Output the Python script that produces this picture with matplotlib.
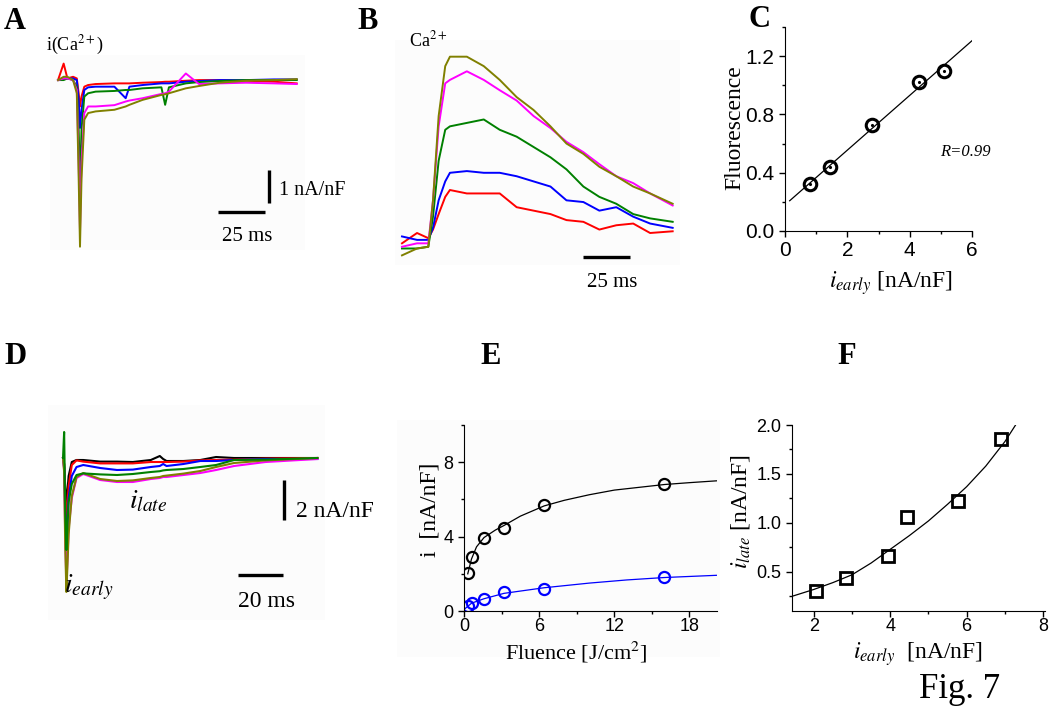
import numpy as np
import matplotlib
matplotlib.use('Agg')
import matplotlib.pyplot as plt
from matplotlib.patches import Rectangle
from matplotlib.ticker import MultipleLocator

# panel A: Ca current traces (ms, nA/nF)
a_time = [0, 3, 5, 8, 10, 11, 11.7, 12.5, 14, 16, 20, 30, 36, 38, 45, 55, 57, 59, 68, 75, 86, 100, 115, 127]
a_red = [0, 0.5, 0.05, 0.1, 0.05, -0.4, -0.8, -0.5, -0.2, -0.15, -0.12, -0.1, -0.1, -0.1, -0.08, -0.06,
         -0.05, -0.05, -0.02, 0, 0, -0.02, -0.05, -0.1]
a_blue = [0, 0.05, 0.05, 0.05, 0, -0.6, -1.45, -0.9, -0.3, -0.22, -0.2, -0.2, -0.55, -0.2, -0.15, -0.1,
          -0.1, -0.1, -0.05, -0.03, 0, 0, 0.02, 0.02]
a_green = [0, 0, 0.05, 0, -0.2, -1.5, -3.1, -1.5, -0.5, -0.4, -0.35, -0.33, -0.3, -0.3, -0.25, -0.22,
           -0.75, -0.22, -0.1, -0.06, -0.03, 0, 0, 0]
a_magenta = [0, 0.05, 0.05, 0, -0.3, -2.5, -4.6, -2.5, -1.0, -0.8, -0.8, -0.76, -0.65, -0.62, -0.55, -0.42,
             -0.4, -0.35, 0.2, -0.12, -0.1, -0.08, -0.1, -0.12]
a_olive = [0, 0.1, 0.1, 0, -0.4, -3.0, -5.05, -3.0, -1.2, -1.0, -0.95, -0.9, -0.8, -0.75, -0.6, -0.45,
           -0.43, -0.4, -0.25, -0.18, -0.08, -0.02, 0, 0.03]

# panel B: Ca fluorescence transients (ms, dF/F)
b_time = [0, 8, 14, 16.5, 19.5, 23, 25.5, 34.5, 43.5, 52, 61, 70, 79, 87.5, 96.5, 105, 114, 123, 132, 144]
b_olive = [-0.06, -0.02, -0.01, 0.26, 0.75, 1.04, 1.095, 1.095, 1.04, 0.96, 0.86, 0.785, 0.69, 0.59,
           0.53, 0.455, 0.40, 0.34, 0.30, 0.24]
b_magenta = [-0.01, 0.01, 0.01, 0.26, 0.69, 0.94, 0.96, 1.01, 0.96, 0.90, 0.84, 0.75, 0.68, 0.60,
             0.54, 0.47, 0.40, 0.36, 0.30, 0.23]
b_green = [-0.02, -0.02, -0.01, 0.165, 0.49, 0.67, 0.69, 0.71, 0.73, 0.67, 0.63, 0.57, 0.51, 0.44,
           0.34, 0.28, 0.24, 0.18, 0.155, 0.135]
b_blue = [0.05, 0.03, 0.03, 0.10, 0.26, 0.37, 0.42, 0.43, 0.42, 0.42, 0.40, 0.37, 0.34, 0.26,
          0.25, 0.20, 0.22, 0.165, 0.125, 0.10]
b_red = [0.01, 0.07, 0.04, 0.09, 0.18, 0.28, 0.32, 0.30, 0.30, 0.30, 0.22, 0.20, 0.18, 0.145,
         0.135, 0.09, 0.115, 0.125, 0.07, 0.08]

# panel C: fluorescence vs early current
c_early = [0.8, 1.45, 2.8, 4.3, 5.1]
c_fluo = [0.32, 0.44, 0.73, 1.02, 1.10]

# panel D: current traces at increasing fluence (ms, nA/nF)
d_time = [0, 0.5, 1.0, 1.5, 2.0, 2.5, 3.9, 6, 9, 16.5, 24, 31, 39, 43, 44.5, 46, 53.5, 61, 68, 76, 90, 113]
d_black = [0, -0.3, -1.5, -2.25, -1.6, -0.9, -0.2, -0.1, -0.1, -0.18, -0.18, -0.2, -0.1, 0.1, -0.05,
           -0.15, -0.15, -0.1, 0.05, 0, 0, 0]
d_red = [0, -0.3, -2.0, -3.1, -2.3, -1.4, -0.35, -0.12, -0.18, -0.27, -0.27, -0.27, -0.2, -0.2, -0.2,
         -0.2, -0.18, -0.12, -0.1, -0.08, -0.03, 0]
d_blue = [0, -0.5, -2.8, -4.3, -3.2, -2.0, -0.9, -0.45, -0.35, -0.5, -0.6, -0.58, -0.45, -0.4, -0.3,
          -0.4, -0.3, -0.15, -0.15, -0.1, -0.05, -0.05]
d_green = [0, 1.3, -2.7, -4.6, -3.3, -2.2, -1.3, -0.85, -0.77, -0.82, -0.85, -0.8, -0.7, -0.66, -0.62,
           -0.6, -0.55, -0.45, -0.35, -0.1, -0.08, 0]
d_magenta = [0, -0.6, -4.0, -6.3, -5.0, -3.5, -2.0, -1.0, -0.8, -1.1, -1.2, -1.2, -1.05, -1.0, -0.95,
             -0.95, -0.85, -0.75, -0.6, -0.4, -0.2, -0.05]
d_olive = [0, -0.7, -4.5, -6.7, -5.3, -3.8, -1.9, -0.95, -0.75, -1.05, -1.15, -1.12, -1.0, -0.95, -0.9,
           -0.88, -0.78, -0.65, -0.45, -0.25, -0.12, 0]

# panel E: current vs fluence
e_fluence = [0.3, 0.6, 1.6, 3.2, 6.4, 16]
e_early = [2.05, 2.9, 3.95, 4.45, 5.7, 6.85]
e_late = [0.25, 0.42, 0.63, 1.03, 1.2, 1.85]
e_fit_x = [0.3, 0.6, 1.0, 1.6, 2.5, 3.2, 4.5, 6.4, 8, 10, 12, 14, 16, 18, 20.2]
e_fit_early = [2.0, 2.8, 3.45, 3.95, 4.35, 4.6, 5.1, 5.65, 5.95, 6.25, 6.5, 6.65, 6.8, 6.9, 7.0]
e_fit_lx = [0, 0.6, 1.6, 3.2, 6.4, 10, 13, 16, 20.2]
e_fit_late = [0.08, 0.42, 0.66, 0.95, 1.25, 1.5, 1.67, 1.8, 1.92]

# panel F: late vs early current
f_early = [2.05, 2.85, 3.95, 4.45, 5.78, 6.9]
f_late = [0.30, 0.44, 0.66, 1.06, 1.22, 1.86]
f_fit_x = [1.43, 2, 2.5, 3, 3.5, 4, 4.5, 5, 5.5, 6, 6.5, 7, 7.28]
f_fit_y = [0.25, 0.32, 0.39, 0.47, 0.59, 0.73, 0.87, 1.02, 1.19, 1.37, 1.58, 1.83, 2.0]

RED, BLUE, GREEN, MAG, OLIVE = '#ff0000', '#0000ff', '#008000', '#ff00ff', '#808000'

plt.rcParams['font.family'] = ['Liberation Serif', 'DejaVu Serif']
plt.rcParams['mathtext.fontset'] = 'stix'
SANS = ['Liberation Sans', 'DejaVu Sans']

W, H = 1050, 710
fig = plt.figure(figsize=(W / 100, H / 100), dpi=100)


def px_axes(x0, y0, x1, y1):
    return fig.add_axes([x0 / W, 1 - y1 / H, (x1 - x0) / W, (y1 - y0) / H])


def px_text(x, y, s, **kw):
    kw.setdefault('va', 'baseline')
    fig.text(x / W, 1 - y / H, s, **kw)


def label_at(axis, x, y):
    axis.set_label_coords(x / W, 1 - y / H, transform=fig.transFigure)
    axis.label.set_va('center')
    axis.label.set_ha('center')


def trace_axes(ax, xlim, ylim):
    ax.set_xlim(*xlim)
    ax.set_ylim(*ylim)
    ax.set_xticks([])
    ax.set_yticks([])
    ax.set_facecolor('#fcfcfc')
    for s in ax.spines.values():
        s.set_visible(False)


def plot_axes(ax, size):
    ax.spines['top'].set_visible(False)
    ax.spines['right'].set_visible(False)
    ax.tick_params(which='both', direction='out', width=1)
    ax.tick_params(which='major', length=4, labelsize=size)
    ax.tick_params(which='minor', length=2.5)
    for lab in ax.get_xticklabels() + ax.get_yticklabels():
        lab.set_family(SANS)


# ---- A ----
ax = px_axes(50, 55, 305, 250)
trace_axes(ax, (-4.26, 131.4), (-5.15, 0.76))
for y, c in [(a_red, RED), (a_blue, BLUE), (a_green, GREEN), (a_magenta, MAG), (a_olive, OLIVE)]:
    ax.plot(a_time, y, color=c, lw=1.4)
ax.plot([112.2, 112.2], [-2.73, -3.73], color='k', lw=2.4, solid_capstyle='butt')
ax.plot([85.1, 110.1], [-4.0, -4.0], color='k', lw=2.4, solid_capstyle='butt')
px_text(4, 29, 'A', fontsize=22, fontweight='bold')
px_text(46, 50, 'i(Ca$^{2+}$)', fontsize=13)
px_text(279, 195, '1 nA/nF', fontsize=14.5)
px_text(247, 241, '25 ms', fontsize=15, ha='center')

# ---- B ----
ax = px_axes(395, 40, 680, 265)
trace_axes(ax, (-3.72, 147.9), (-0.116, 1.192))
for y, c in [(b_red, RED), (b_blue, BLUE), (b_green, GREEN), (b_magenta, MAG), (b_olive, OLIVE)]:
    ax.plot(b_time, y, color=c, lw=1.4)
ax.plot([96.3, 121.3], [-0.07, -0.07], color='k', lw=2.4, solid_capstyle='butt')
px_text(357, 29, 'B', fontsize=22, fontweight='bold')
px_text(409, 46, 'Ca$^{2+}$', fontsize=13)
px_text(612, 287, '25 ms', fontsize=15, ha='center')

# ---- C ----
ax = px_axes(785, 27, 972, 231)
ax.plot(c_early, c_fluo, 'o', ms=9, mfc='none', mec='k', mew=2.2)
ax.plot(c_early, c_fluo, '.', ms=2.5, color='k')
coef = np.polyfit(c_early, c_fluo, 1)
fx = np.array([0.15, 6.0])
ax.plot(fx, np.polyval(coef, fx), color='k', lw=0.9)
ax.set_xlim(0, 6)
ax.set_ylim(0, 1.4)
ax.xaxis.set_major_locator(MultipleLocator(2))
ax.xaxis.set_minor_locator(MultipleLocator(1))
ax.yaxis.set_major_locator(MultipleLocator(0.4))
ax.yaxis.set_minor_locator(MultipleLocator(0.2))
ax.yaxis.set_major_formatter(matplotlib.ticker.FormatStrFormatter('%.1f'))
plot_axes(ax, 15)
ax.set_ylabel('Fluorescence', fontsize=17)
ax.set_xlabel('$i_{early}$ [nA/nF]', fontsize=17)
label_at(ax.yaxis, 735, 128)
label_at(ax.xaxis, 891, 283)
ax.text(4.97, 0.54, 'R=0.99', fontsize=12, style='italic', va='center')
px_text(749, 27, 'C', fontsize=22, fontweight='bold')

# ---- D ----
ax = px_axes(48, 405, 325, 620)
trace_axes(ax, (-6.67, 116.4), (-8.1, 2.65))
for y, c in [(d_black, 'k'), (d_red, RED), (d_blue, BLUE), (d_magenta, MAG), (d_olive, OLIVE),
             (d_green, GREEN)]:
    ax.plot(d_time, y, color=c, lw=1.5)
ax.plot([98.2, 98.2], [-1.1, -3.1], color='k', lw=2.4, solid_capstyle='butt')
ax.plot([77.8, 97.8], [-5.85, -5.85], color='k', lw=2.4, solid_capstyle='butt')
px_text(4, 364, 'D', fontsize=22, fontweight='bold')
px_text(296, 517, '2 nA/nF', fontsize=17)
px_text(266, 607, '20 ms', fontsize=17, ha='center')
px_text(129, 508, '$i_{late}$', fontsize=20)
px_text(64, 592, '$i_{early}$', fontsize=20)

# ---- E ----
fig.add_artist(Rectangle((397 / W, 1 - 657 / H), 323 / W, 237 / H, transform=fig.transFigure,
                         facecolor='#fcfcfc', edgecolor='none', zorder=0))
ax = px_axes(464, 425, 717, 611)
ax.patch.set_alpha(0)
ax.plot(e_fit_x, e_fit_early, color='k', lw=0.9)
ax.plot(e_fit_lx, e_fit_late, color=BLUE, lw=0.9)
ax.plot(e_fluence, e_early, 'o', ms=8, mfc='none', mec='k', mew=1.6)
ax.plot(e_fluence, e_late, 'o', ms=8, mfc='none', mec=BLUE, mew=1.6)
ax.set_xlim(0, 20.2)
ax.set_ylim(0, 10)
ax.xaxis.set_major_locator(MultipleLocator(6))
ax.xaxis.set_minor_locator(MultipleLocator(3))
ax.yaxis.set_major_locator(MultipleLocator(4))
ax.yaxis.set_minor_locator(MultipleLocator(2))
plot_axes(ax, 13)
ax.tick_params(axis='x', pad=1)
ax.set_ylabel('i  [nA/nF]', fontsize=17)
ax.set_xlabel('Fluence [J/cm$^2$]', fontsize=16)
label_at(ax.yaxis, 430, 510)
label_at(ax.xaxis, 576, 652)
px_text(480, 364, 'E', fontsize=22, fontweight='bold')

# ---- F ----
ax = px_axes(792, 425, 1045, 611)
ax.plot(f_fit_x, f_fit_y, color='k', lw=0.9)
ax.plot(f_early, f_late, 's', ms=8, mfc='none', mec='k', mew=2)
ax.set_xlim(1.43, 8.05)
ax.set_ylim(0.1, 2.0)
ax.xaxis.set_major_locator(MultipleLocator(2))
ax.xaxis.set_minor_locator(MultipleLocator(1))
ax.yaxis.set_major_locator(MultipleLocator(0.5))
ax.yaxis.set_minor_locator(MultipleLocator(0.25))
ax.yaxis.set_major_formatter(matplotlib.ticker.FormatStrFormatter('%.1f'))
plot_axes(ax, 13)
ax.tick_params(axis='x', pad=1)
ax.set_ylabel('$i_{late}$ [nA/nF]', fontsize=17)
ax.set_xlabel('$i_{early}$  [nA/nF]', fontsize=17)
label_at(ax.yaxis, 740, 512)
label_at(ax.xaxis, 918, 654)
px_text(837, 364, 'F', fontsize=22, fontweight='bold')

px_text(919, 698, 'Fig. 7', fontsize=25)

fig.savefig('out.png', dpi=100)
